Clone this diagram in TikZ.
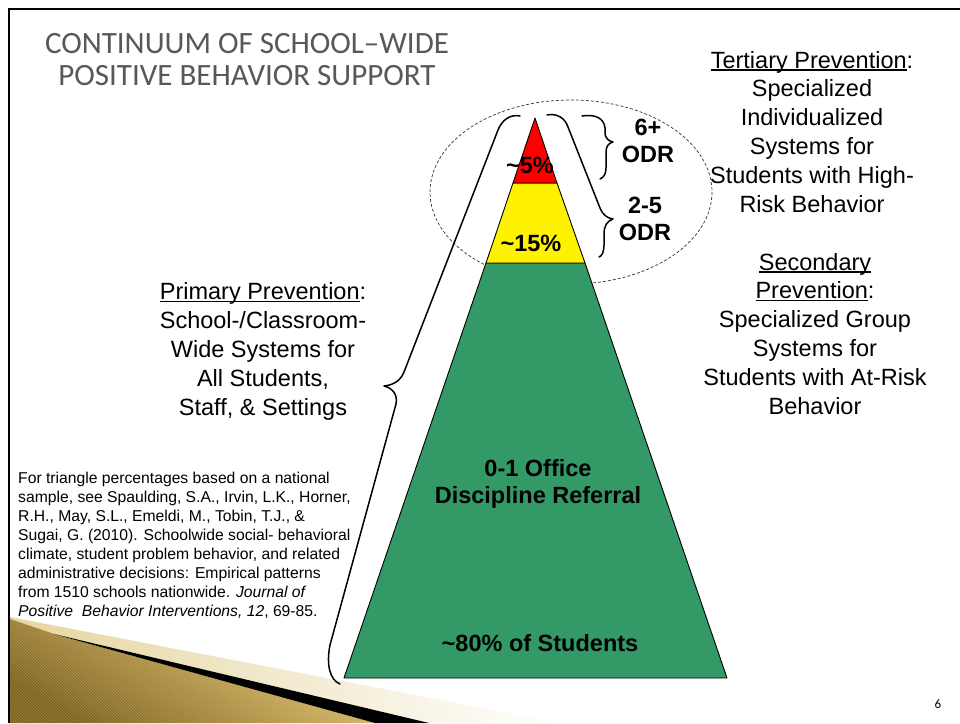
\documentclass[tikz,border=0pt]{standalone}
\usepackage{fontspec}
\setmainfont{Liberation Sans}
\newfontfamily\titlefont{Carlito}
\usetikzlibrary{patterns}
\definecolor{pyrgreen}{RGB}{51,153,102}
\definecolor{titlegray}{RGB}{88,88,88}
\definecolor{golddark}{RGB}{128,98,28}
\definecolor{goldlight}{RGB}{236,206,118}
\definecolor{palegold}{RGB}{228,210,150}
\newcommand\myul[1]{\setbox0\hbox{#1}\rlap{\rule[-2.6pt]{\wd0}{1.3pt}}\box0}
\tikzset{
  lbl/.style={font=\fontsize{23.5}{28.8}\selectfont, align=center, inner sep=0pt, anchor=base},
  boldlbl/.style={font=\bfseries\fontsize{23.5}{27}\selectfont, align=center, inner sep=0pt, anchor=base},
  foot/.style={font=\fontsize{15.7}{18.9}\selectfont, align=left, inner sep=0pt, anchor=base west},
  bracestyle/.style={line width=1.5pt, line join=round, line cap=round},
  band/.style={draw=black, line width=0.9pt, line join=round}
}
\begin{document}
\begin{tikzpicture}[x=1pt,y=-1pt]
\useasboundingbox (0,0) rectangle (960,723);
\fill[white] (0,0) rectangle (960,723);

% bottom-left decoration
\shade[left color=palegold, right color=white] (10,617) -- (560,723) -- (10,723) -- cycle;
\fill[pattern=north west lines, pattern color=white, opacity=0.3] (10,617) -- (560,723) -- (10,723) -- cycle;
\shade[top color=goldlight, bottom color=golddark, shading angle=-30] (10,619) -- (54,634) -- (375,723) -- (10,723) -- cycle;
\fill[pattern=north west lines, pattern color=white, opacity=0.2] (10,619) -- (54,634) -- (375,723) -- (10,723) -- cycle;
\fill[black] (54,634) -- (429,723) -- (375,723) -- cycle;

% frame
\draw[line width=2.5pt] (9,723) -- (9,9) -- (960,9);

% dashed ellipse
\draw[line width=0.7pt, dash pattern=on 3pt off 2pt, black!80] (571,192) ellipse [x radius=141, y radius=92];

% pyramid
\filldraw[band, fill=pyrgreen] (486,263) -- (585,263) -- (727,678) -- (344,678) -- cycle;
\filldraw[band, fill=yellow] (513,183) -- (557,183) -- (585,263) -- (486,263) -- cycle;
\filldraw[band, fill=red] (535,118) -- (557,183) -- (513,183) -- cycle;

% big left brace
\draw[bracestyle] (520,116) .. controls (510,114) and (502,120) .. (498,130)
  -- (404,372) .. controls (400,382) and (392,385) .. (384,386)
  .. controls (392,388) and (398,394) .. (396,404)
  -- (330,645) .. controls (326,665) and (330,680) .. (340,684);
% right brace (2-5)
\draw[bracestyle] (547,115) .. controls (557,113) and (565,118) .. (568,127)
  -- (600,208) .. controls (603,215) and (607,218) .. (613,219)
  .. controls (607,221) and (604,226) .. (604,234)
  -- (604,245) .. controls (604,252) and (602,256) .. (599,257);
% small brace (6+)
\draw[bracestyle] (582,116) .. controls (595,114) and (604,118) .. (605,128)
  -- (605,134) .. controls (606,139) and (609,141) .. (613,142)
  .. controls (609,143) and (606,146) .. (606,152)
  -- (606,168) .. controls (606,174) and (604,177) .. (600,179);

% texts (anchor=base refers to the last line)
\node[anchor=base, font=\titlefont\fontsize{31}{32}\selectfont, text=titlegray, align=center, inner sep=0pt] (title) at (247,85) {CONTINUUM OF SCHOOL–WIDE\\POSITIVE BEHAVIOR SUPPORT};

\node[lbl] (tert) at (812,212) {\myul{Tertiary Prevention}:\\Specialized\\Individualized\\Systems for\\Students with High-\\Risk Behavior};
\node[lbl] (sec) at (815,414) {\myul{Secondary}\\\myul{Prevention}:\\Specialized Group\\Systems for\\Students with At-Risk\\Behavior};
\node[lbl] (prim) at (263,415) {\myul{Primary Prevention}:\\School-/Classroom-\\Wide Systems for\\All Students,\\Staff, \& Settings};

\node[foot] (foot) at (18,616) {For triangle percentages based on a national\\sample, see Spaulding, S.A., Irvin, L.K., Horner,\\R.H., May, S.L., Emeldi, M., Tobin, T.J., \&\\Sugai, G. (2010). Schoolwide social- behavioral\\climate, student problem behavior, and related\\administrative decisions: Empirical patterns\\from 1510 schools nationwide. \textit{Journal of}\\\textit{Positive\ \ Behavior Interventions, 12}, 69-85.};

\node[boldlbl] (odrsix) at (648,162) {6+\\ODR};
\node[boldlbl] (odrtwo) at (645,240) {2-5\\ODR};
\node[boldlbl] (pfive) at (530,173) {\textasciitilde5\%};
\node[boldlbl] (pfifteen) at (531,251) {\textasciitilde15\%};
\node[boldlbl] (odrzero) at (538,503) {0-1 Office\\Discipline Referral};
\node[boldlbl] (peighty) at (540,651) {\textasciitilde80\% of Students};

\node[anchor=base, font=\titlefont\fontsize{13}{14}\selectfont, inner sep=0pt] (pnum) at (938,708) {6};
\end{tikzpicture}
\end{document}
